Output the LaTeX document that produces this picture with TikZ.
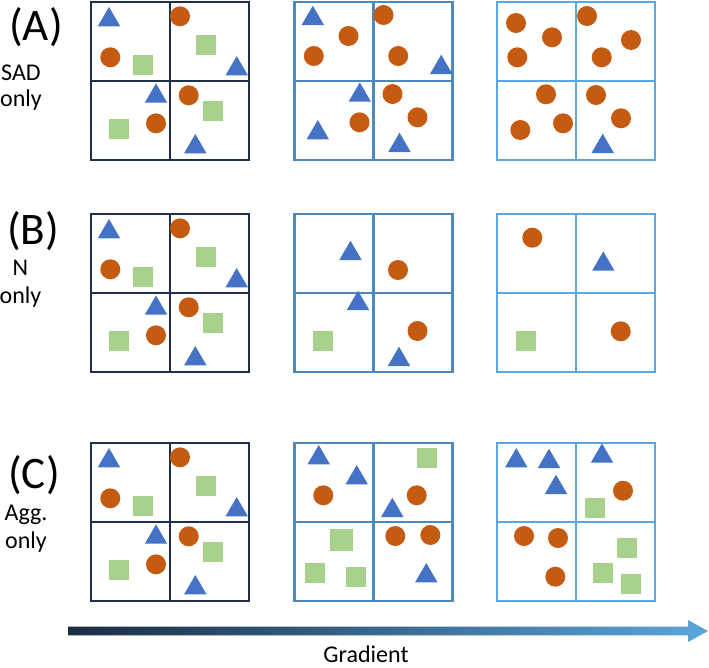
\documentclass[tikz,border=0pt]{standalone}
\usepackage{fontspec}
\setmainfont{Carlito}
\usepackage{tikz}
\usetikzlibrary{calc}

\definecolor{boxdark}{HTML}{1E3048}
\definecolor{boxmid}{HTML}{4F88BB}
\definecolor{boxlight}{HTML}{5BA8E0}
\definecolor{dotorange}{HTML}{C55A11}
\definecolor{triblue}{HTML}{4472C4}
\definecolor{sqgreen}{HTML}{A9D18E}
\definecolor{arrowdark}{HTML}{1B2C42}
\definecolor{arrowlight}{HTML}{5AA6DC}

\tikzset{
  dotfill/.style={fill=dotorange},
  trifill/.style={fill=triblue},
  sqfill/.style={fill=sqgreen},
  biglab/.style={font=\fontsize{38.5}{40}\selectfont, inner sep=0pt},
  sublab/.style={anchor=base, inner sep=0pt}
}

% shapes, placed in pixel units relative to a panel's top-left corner
\newcommand{\orgdot}[2]{\fill[dotfill] (#1,#2) circle (10);}
\newcommand{\blutri}[2]{\fill[trifill] (#1-11.2,#2) -- (#1,#2-19.3) -- (#1+11.2,#2) -- cycle;}
\newcommand{\grnsq}[3][10]{\fill[sqfill] (#2-#1,#3-#1) rectangle (#2+#1,#3+#1);}
\newcommand{\panelframe}[1]{%
  \draw[#1, line width=2.4pt] (0,0) rectangle (158,158);
  \draw[#1, line width=2pt] (79,0) -- (79,158) (0,79) -- (158,79);}

\begin{document}
\begin{tikzpicture}[
  font=\fontsize{20.5}{24}\selectfont,
  x=0.03cm, y=-0.03cm
]
\useasboundingbox (0,0) rectangle (709,667);
% ---- Layout note ----
% Units are pixels of the original figure, y grows downwards.
% Each panel is 158 x 158 with its quadrant lines at 79.
\def\yA{2}
\def\yB{214}
\def\yC{443}
\def\xOne{91}
\def\xTwo{294.5}
\def\xThree{497}

% ---- Row labels ----
\node[biglab] (labA) at (36,27) {(A)};
\node[sublab] (subA) at (21,80.7) {SAD};
\node[sublab] (onlyA) at (21,106) {only};

\node[biglab] (labB) at (33,231) {(B)};
\node[sublab] (subB) at (20.5,275) {N};
\node[sublab] (onlyB) at (20.5,303) {only};

\node[biglab] (labC) at (34,475) {(C)};
\node[sublab] (subC) at (26,520) {Agg.};
\node[sublab] (onlyC) at (26,548) {only};

% ---- Column 1: same mixed community in every row ----
\foreach \r in {\yA,\yB,\yC} {
  \begin{scope}[shift={(\xOne,\r)}]
    \panelframe{boxdark}
    \blutri{18}{24.3} \blutri{145.7}{73.3} \blutri{65}{100.7} \blutri{104.3}{151.3}
    \orgdot{19.3}{55.3} \orgdot{89}{14.3} \orgdot{65}{121.3} \orgdot{97.7}{93.3}
    \grnsq{52.3}{63.3} \grnsq{114.7}{42.7} \grnsq{28}{126.7} \grnsq{122.3}{108.7}
  \end{scope}
}

% ---- Row A: SAD only ----
\begin{scope}[shift={(\xTwo,\yA)}]
  \panelframe{boxmid}
  \blutri{18.3}{23} \blutri{146.7}{72} \blutri{65.3}{99.7} \blutri{23.3}{137.3} \blutri{105}{150}
  \orgdot{54}{34} \orgdot{19.3}{54} \orgdot{89}{13} \orgdot{103.7}{54}
  \orgdot{65}{120.3} \orgdot{98}{92} \orgdot{123}{115.3}
\end{scope}

\begin{scope}[shift={(\xThree,\yA)}]
  \panelframe{boxlight}
  \orgdot{19}{21} \orgdot{55}{35.3} \orgdot{20.3}{55.3} \orgdot{90}{14} \orgdot{134}{38}
  \orgdot{104.7}{55.3} \orgdot{49}{92.3} \orgdot{66}{121.3} \orgdot{23.3}{128}
  \orgdot{99}{93} \orgdot{124}{116.3}
  \blutri{105.7}{151}
\end{scope}

% ---- Row B: N only ----
\begin{scope}[shift={(\xTwo,\yB)}]
  \panelframe{boxmid}
  \blutri{56}{46} \blutri{63.5}{96} \blutri{104.5}{152}
  \orgdot{103.5}{56} \orgdot{123}{117}
  \grnsq{28}{127.3}
\end{scope}

\begin{scope}[shift={(\xThree,\yB)}]
  \panelframe{boxlight}
  \orgdot{35.3}{23.7} \orgdot{123.7}{117.3}
  \blutri{106.3}{56.7}
  \grnsq{29}{127.3}
\end{scope}

% ---- Row C: aggregation only ----
\begin{scope}[shift={(\xTwo,\yC)}]
  \panelframe{boxmid}
  \blutri{24.2}{21.3} \blutri{62.2}{41.3} \blutri{97.8}{74} \blutri{131.8}{139.3}
  \orgdot{28.8}{52.3} \orgdot{122.2}{52.3} \orgdot{100.8}{93} \orgdot{135.8}{92}
  \grnsq{132.7}{15.2} \grnsq[11.3]{47.2}{97} \grnsq{20.2}{130.3} \grnsq{61.8}{133.7}
\end{scope}

\begin{scope}[shift={(\xThree,\yC)}]
  \panelframe{boxlight}
  \blutri{19.3}{24.3} \blutri{52}{25} \blutri{59}{51} \blutri{105}{19.7}
  \orgdot{126}{47.7} \orgdot{27}{93} \orgdot{61}{95} \orgdot{58.3}{133.7}
  \grnsq{98.2}{64.5} \grnsq{130.3}{105.2} \grnsq{106}{130.2} \grnsq{133.7}{140.8}
\end{scope}

% ---- Gradient arrow (shaded outline, dark to light) ----
\coordinate (gstart) at (68,631);
\coordinate (gend) at (708,631);
\shade[left color=arrowdark, right color=arrowlight]
  ($(gstart)+(0,-4.3)$) -- ($(gend)+(-20,-4.3)$) -- ($(gend)+(-20,-11)$) -- (gend)
  -- ($(gend)+(-20,11)$) -- ($(gend)+(-20,4.3)$) -- ($(gstart)+(0,4.3)$) -- cycle;
\node[sublab] (gradlab) at (366,662.5) {Gradient};

\end{tikzpicture}
\end{document}
